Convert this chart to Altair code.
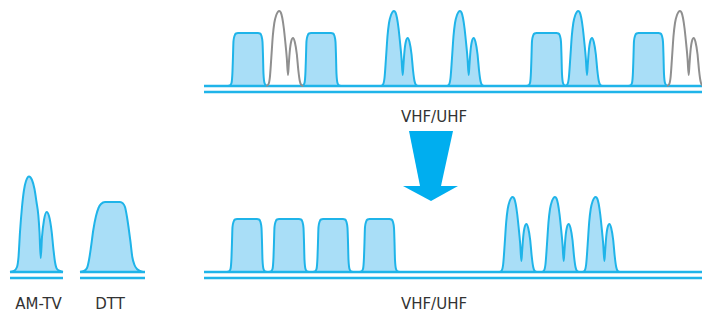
import altair as alt
import pandas as pd

# ---------------- data (screen-pixel coordinates) ----------------
# analogue TV spectrum profile: offset from main peak (px) and height above baseline (px)
AM_DX = [-13, -11, -9.5, -8, -6.5, -5, -3, -1.5, 0, 1.5, 3, 4.5, 6, 7.5, 8.7,
         9.5, 10.5, 12, 13.7, 15.5, 17.5, 19, 20.5, 22, 24]
AM_H = [0, 1.5, 8, 28, 50, 63, 71, 74, 75, 73.5, 68, 58, 44, 28, 11,
        22, 35, 45, 48, 44, 32, 16, 5, 1, 0]

# digital (DTT) channel profile: offset from left foot (px) and height (px)
DTT_DX = [0, 2, 3.5, 4.5, 5, 5.5, 6.5, 8, 10, 30, 32, 33.5, 34.5, 35, 35.5, 36.5, 38, 40]
DTT_H = [0, 0.5, 3, 15, 30, 45, 50, 52.5, 53, 53, 52.5, 50, 44, 30, 12, 3, 0.5, 0]

# large legend shapes (absolute x, height above baseline)
BIG_AM_X = [10, 14, 17, 18.5, 20, 22, 24, 26, 29, 32, 34.5, 36.5, 38.3, 39.5, 40.7,
            42, 44, 46.7, 49, 51.7, 53.5, 55, 57, 60, 63]
BIG_AM_H = [0, 1, 5, 15, 40, 65, 82, 91, 95.5, 92, 83, 70, 57, 40, 14,
            35, 52, 60, 56, 40, 22, 10, 3, 1, 0]
BIG_DTT_X = [80, 84, 87, 89, 91, 93.3, 96, 98.5, 101, 105, 120, 123, 125, 127,
             128.5, 130.5, 132.3, 134.5, 137, 140, 143]
BIG_DTT_H = [0, 1, 4, 12, 25, 42, 56, 64, 68, 70, 70, 68.5, 65, 55,
             45, 30, 15, 7, 3, 1, 0]

# channel positions
TOP_BASE = 86
BOT_BASE = 272
TOP_DTT_X = [228, 301, 526.5, 628.5]
TOP_AM_PEAK = [279.3, 394, 460, 578.3, 680]
TOP_AM_KIND = ["gray", "blue", "blue", "blue", "gray"]
BOT_DTT_X = [227, 269, 313, 359.5]
BOT_AM_PEAK = [512.7, 555, 595.7]

# baseline double lines
RULE_X1 = [204, 204, 204, 204, 10, 10, 80, 80]
RULE_X2 = [710, 710, 710, 710, 63, 63, 145, 145]
RULE_Y = [86, 92, 272, 278, 272, 278, 272, 278]

# arrow: shaft (trapezoid) and head (triangle) as horizontal slices
ARROW_PART = ["shaft", "shaft", "head", "head"]
ARROW_Y = [131, 186, 186, 201]
ARROW_XL = [409, 420, 403, 431]
ARROW_XR = [453, 441, 458, 431]

# labels
LABELS = ["VHF/UHF", "VHF/UHF", "AM-TV", "DTT"]
LABEL_X = [434, 434, 38.5, 110]
LABEL_Y = [121.5, 309, 309, 309]

# ---------------- build tables ----------------
rows = []


def add(sid, kind, xs, hs, base):
    for x, h in zip(xs, hs):
        rows.append({"id": sid, "kind": kind, "x": x, "y": base - h, "base": base})


n = 0
for x0 in TOP_DTT_X:
    add(f"s{n}", "blue", [x0 + d for d in DTT_DX], DTT_H, TOP_BASE); n += 1
for p, k in zip(TOP_AM_PEAK, TOP_AM_KIND):
    add(f"s{n}", k, [p + d for d in AM_DX], AM_H, TOP_BASE); n += 1
for x0 in BOT_DTT_X:
    add(f"s{n}", "blue", [x0 + d for d in DTT_DX], DTT_H, BOT_BASE); n += 1
for p in BOT_AM_PEAK:
    add(f"s{n}", "blue", [p + d for d in AM_DX], AM_H, BOT_BASE); n += 1
add(f"s{n}", "blue", BIG_AM_X, BIG_AM_H, BOT_BASE); n += 1
add(f"s{n}", "blue", BIG_DTT_X, BIG_DTT_H, BOT_BASE); n += 1

shapes = pd.DataFrame(rows)
rules = pd.DataFrame({"x1": RULE_X1, "x2": RULE_X2, "y": RULE_Y})
arrow = pd.DataFrame({"part": ARROW_PART, "y": ARROW_Y, "xl": ARROW_XL, "xr": ARROW_XR})
labels = pd.DataFrame({"t": LABELS, "x": LABEL_X, "y": LABEL_Y})

# chart area = page area inside the 8px margin; data are page pixels
W, H = 694, 306
xs = alt.Scale(domain=[8, 8 + W], nice=False, zero=False)
ys = alt.Scale(domain=[8, 8 + H], nice=False, zero=False, reverse=True)

STROKE = "#1FB4E9"
FILL = "#A9DEF7"
GRAY = "#8F8F8F"
ARROW = "#00AEEF"

areas = alt.Chart(shapes).transform_filter(alt.datum.kind == "blue").mark_area(
    interpolate="monotone", color=FILL, opacity=1
).encode(
    x=alt.X("x:Q", scale=xs, axis=None),
    y=alt.Y("y:Q", scale=ys, axis=None, stack=None),
    y2="base:Q",
    detail="id:N",
)

rule_layer = alt.Chart(rules).mark_rule(color=STROKE, strokeWidth=2.5).encode(
    x=alt.X("x1:Q", scale=xs, axis=None),
    x2="x2:Q",
    y=alt.Y("y:Q", scale=ys, axis=None),
)

lines = alt.Chart(shapes).mark_line(interpolate="monotone", strokeWidth=2).encode(
    x=alt.X("x:Q", scale=xs, axis=None),
    y=alt.Y("y:Q", scale=ys, axis=None),
    detail="id:N",
    color=alt.Color("kind:N", scale=alt.Scale(domain=["blue", "gray"], range=[STROKE, GRAY]),
                    legend=None),
)

arrow_layer = alt.Chart(arrow).mark_area(orient="horizontal", color=ARROW, opacity=1).encode(
    y=alt.Y("y:Q", scale=ys, axis=None),
    x=alt.X("xl:Q", scale=xs, axis=None, stack=None),
    x2="xr:Q",
    detail="part:N",
)

text_layer = alt.Chart(labels).mark_text(
    font="DejaVu Sans", fontSize=15, color="#333333", baseline="alphabetic", align="center"
).encode(
    x=alt.X("x:Q", scale=xs, axis=None),
    y=alt.Y("y:Q", scale=ys, axis=None),
    text="t:N",
)

chart = alt.layer(areas, rule_layer, lines, arrow_layer, text_layer).properties(
    width=W, height=H, padding=0, autosize=alt.AutoSizeParams(type="none")
).configure_view(stroke=None)

chart.save("out.html", embed_options={"renderer": "svg", "actions": False})
